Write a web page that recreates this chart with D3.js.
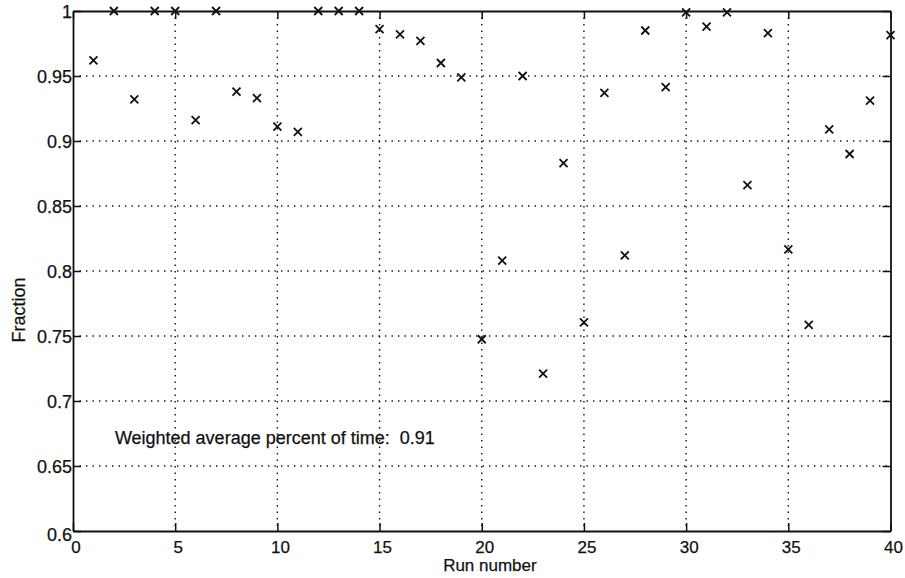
<!DOCTYPE html>
<html>
<head>
<meta charset="utf-8">
<script src="https://cdn.jsdelivr.net/npm/d3@7"></script>
<style>
  html, body { margin: 0; padding: 0; background: #fff; }
  svg { display: block; }
  text { font-family: "Liberation Sans", Arial, Helvetica, sans-serif; fill: #111; }
</style>
</head>
<body>
<svg id="chart" width="905" height="578"></svg>
<script>
const runs = [1,2,3,4,5,6,7,8,9,10,11,12,13,14,15,16,17,18,19,20,21,22,23,24,25,26,27,28,29,30,31,32,33,34,35,36,37,38,39,40];
const fraction = [0.962,1.0,0.932,1.0,1.0,0.916,1.0,0.938,0.933,0.911,0.907,1.0,1.0,1.0,0.986,0.982,0.977,0.960,0.949,0.7475,0.808,0.950,0.721,0.883,0.7605,0.937,0.812,0.985,0.9415,0.999,0.988,0.999,0.866,0.983,0.8167,0.7585,0.909,0.890,0.931,0.9815];
const xTicks = [0,5,10,15,20,25,30,35,40];
const yTicks = [0.6,0.65,0.7,0.75,0.8,0.85,0.9,0.95,1];
const yTickLabels = ["0.6","0.65","0.7","0.75","0.8","0.85","0.9","0.95","1"];
const xLabel = "Run number";
const yLabel = "Fraction";
const note = "Weighted average percent of time:\u00a0 0.91";

const svg = d3.select("#chart");
const L = 73, R = 890.5, T = 11, B = 531;
const x = d3.scaleLinear().domain([0, 40]).range([L, R]);
const y = d3.scaleLinear().domain([0.6, 1]).range([B, T]);
const ink = "#111";

// grid
const grid = svg.append("g");
grid.selectAll("line.vg").data(xTicks.slice(1, -1)).join("line")
  .attr("x1", d => x(d)).attr("x2", d => x(d)).attr("y1", T).attr("y2", B)
  .attr("stroke", ink).attr("stroke-width", 1.4).attr("stroke-dasharray", "1.4,5.1");
grid.selectAll("line.hg").data(yTicks.slice(1, -1)).join("line")
  .attr("x1", L).attr("x2", R).attr("y1", d => y(d)).attr("y2", d => y(d))
  .attr("stroke", ink).attr("stroke-width", 1.4).attr("stroke-dasharray", "1.4,5.1");

// axes (inward ticks, box)
const tl = 8;
const gBottom = svg.append("g").attr("transform", `translate(0,${B})`)
  .call(d3.axisBottom(x).tickValues(xTicks).tickSizeInner(-tl).tickSizeOuter(0).tickFormat(d3.format("d")).tickPadding(0));
const gTop = svg.append("g").attr("transform", `translate(0,${T})`)
  .call(d3.axisTop(x).tickValues(xTicks).tickSizeInner(-tl).tickSizeOuter(0).tickFormat(""));
const gLeft = svg.append("g").attr("transform", `translate(${L},0)`)
  .call(d3.axisLeft(y).tickValues(yTicks).tickSizeInner(-tl).tickSizeOuter(0)
        .tickFormat((d, i) => yTickLabels[i]).tickPadding(1));
const gRight = svg.append("g").attr("transform", `translate(${R},0)`)
  .call(d3.axisRight(y).tickValues(yTicks).tickSizeInner(-tl).tickSizeOuter(0).tickFormat(""));

[gBottom, gTop, gLeft, gRight].forEach(g => {
  g.select(".domain").attr("stroke", ink).attr("stroke-width", 1.8);
  g.selectAll(".tick line").attr("stroke", ink).attr("stroke-width", 1.5);
  g.selectAll("text").attr("font-size", 18).attr("font-family", "'Liberation Sans', Arial, sans-serif")
    .attr("fill", ink).attr("stroke", ink).attr("stroke-width", 0.25);
});
gBottom.selectAll("text").attr("font-size", 17).attr("dx", 2.5).attr("y", 21.5).attr("dy", 0);
gLeft.selectAll("text").attr("dy", "0.36em");
gLeft.selectAll(".tick").filter(d => d === 0.6).select("text").attr("dy", "0.5em");

// markers
svg.append("g").selectAll("path").data(runs).join("path")
  .attr("transform", (d, i) => `translate(${x(d)},${y(fraction[i])})`)
  .attr("d", "M-4,-4L4,4M-4,4L4,-4")
  .attr("stroke", ink).attr("stroke-width", 1.8).attr("fill", "none");

// annotation
svg.append("text").attr("x", x(2.05)).attr("y", y(0.672)).attr("dy", "0.35em")
  .attr("font-size", 18).attr("stroke", ink).attr("stroke-width", 0.25).text(note);

// axis labels
svg.append("text").attr("x", x(20.4)).attr("y", 571)
  .attr("text-anchor", "middle").attr("font-size", 17).attr("stroke", ink).attr("stroke-width", 0.25).text(xLabel);
svg.append("text").attr("transform", `translate(18.5,${y(0.77)}) rotate(-90)`).attr("dy", "0.35em")
  .attr("text-anchor", "middle").attr("font-size", 18).attr("stroke", ink).attr("stroke-width", 0.25).text(yLabel);
</script>
</body>
</html>
